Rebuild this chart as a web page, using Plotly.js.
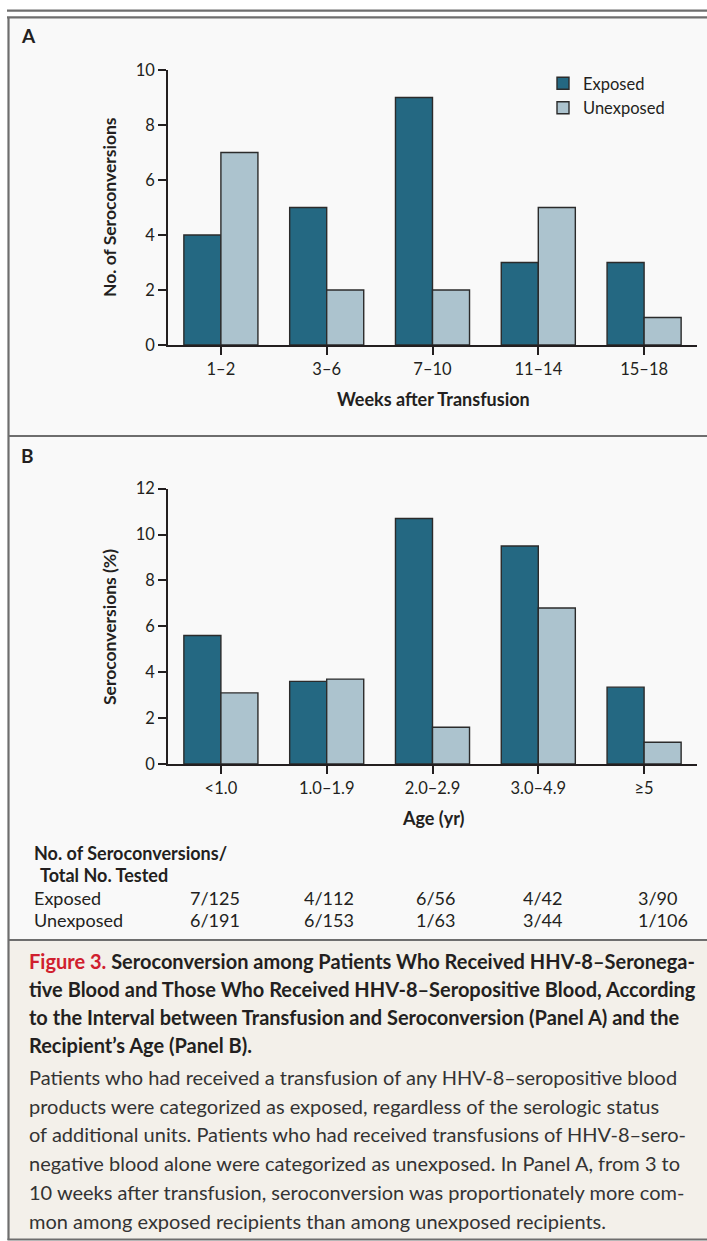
<!DOCTYPE html>
<html>
<head>
<meta charset="utf-8">
<script src="https://cdn.plot.ly/plotly-3.0.1.min.js"></script>
<style>
html,body{margin:0;padding:0;background:#fff;}
#chart{width:707px;height:1241px;}
</style>
</head>
<body>
<div id="chart"></div>
<script>
// ---------- DATA ----------
const weekCategories = ['1–2', '3–6', '7–10', '11–14', '15–18'];
const exposedByWeek = [4, 5, 9, 3, 3];
const unexposedByWeek = [7, 2, 2, 5, 1];

const ageCategories = ['<1.0', '1.0–1.9', '2.0–2.9', '3.0–4.9', '≥5'];
const exposedByAge = [5.6, 3.6, 10.7, 9.5, 3.35];
const unexposedByAge = [3.1, 3.7, 1.6, 6.8, 0.95];

const tableExposed = ['7/125', '4/112', '6/56', '4/42', '3/90'];
const tableUnexposed = ['6/191', '6/153', '1/63', '3/44', '1/106'];

const seriesNames = ['Exposed', 'Unexposed'];

const captionTitle = [
  '<span style="color:#d0202e">Figure 3.</span> Seroconversion among Patients Who Received HHV-8–Seronega-',
  'tive Blood and Those Who Received HHV-8–Seropositive Blood, According',
  'to the Interval between Transfusion and Seroconversion (Panel A) and the',
  'Recipient’s Age (Panel B).'
];
const captionBody = [
  'Patients who had received a transfusion of any HHV-8–seropositive blood',
  'products were categorized as exposed, regardless of the serologic status',
  'of additional units. Patients who had received transfusions of HHV-8–sero-',
  'negative blood alone were categorized as unexposed. In Panel A, from 3 to',
  '10 weeks after transfusion, seroconversion was proportionately more com-',
  'mon among exposed recipients than among unexposed recipients.'
];

// ---------- LAYOUT HELPERS ----------
const W = 707, H = 1241;
const px = x => x / W;
const py = y => 1 - y / H;
const FONT = 'Lato, "Liberation Sans", sans-serif';
const TXT = '#231f20';
const AX = '#231f20';
const COL_EXP = '#246882';
const COL_UNEXP = '#acc3ce';

const barLine = {color: '#2b2b2b', width: 1.4};

const traces = [
  {type: 'bar', name: seriesNames[0], x: weekCategories, y: exposedByWeek, xaxis: 'x', yaxis: 'y',
   marker: {color: COL_EXP, line: barLine}, legendgroup: 'e', hoverinfo: 'x+y'},
  {type: 'bar', name: seriesNames[1], x: weekCategories, y: unexposedByWeek, xaxis: 'x', yaxis: 'y',
   marker: {color: COL_UNEXP, line: barLine}, legendgroup: 'u', hoverinfo: 'x+y'},
  {type: 'bar', name: seriesNames[0], x: ageCategories, y: exposedByAge, xaxis: 'x2', yaxis: 'y2',
   marker: {color: COL_EXP, line: barLine}, showlegend: false, legendgroup: 'e', hoverinfo: 'x+y'},
  {type: 'bar', name: seriesNames[1], x: ageCategories, y: unexposedByAge, xaxis: 'x2', yaxis: 'y2',
   marker: {color: COL_UNEXP, line: barLine}, showlegend: false, legendgroup: 'u', hoverinfo: 'x+y'}
];

const axisCommon = {
  showline: true, linecolor: AX, linewidth: 1.5,
  ticks: 'outside', tickcolor: AX, tickwidth: 1.5, ticklen: 8,
  showgrid: false, zeroline: false, fixedrange: true,
  tickfont: {family: FONT, size: 16.5, color: TXT}
};

const xA = Object.assign({}, axisCommon, {
  domain: [px(168), px(697)], anchor: 'y', type: 'category', range: [-0.5, 4.5]
});
const yA = Object.assign({}, axisCommon, {
  domain: [py(345), py(70)], anchor: 'x', range: [0, 10], dtick: 2, tick0: 0
});
const xB = Object.assign({}, axisCommon, {
  domain: [px(168), px(697)], anchor: 'y2', type: 'category', range: [-0.5, 4.5]
});
const yB = Object.assign({}, axisCommon, {
  domain: [py(764), py(488.7)], anchor: 'x2', range: [0, 12], dtick: 2, tick0: 0
});

const ann = [];
function addText(text, x, y, opts) {
  ann.push(Object.assign({
    text: text, x: px(x), y: py(y), xref: 'paper', yref: 'paper',
    xanchor: 'left', yanchor: 'middle', showarrow: false,
    font: {family: FONT, size: 18, color: TXT}
  }, opts || {}));
}

// panel letters
addText('<b>A</b>', 19, 35.5, {font: {family: FONT, size: 19, color: TXT}});
addText('<b>B</b>', 19, 455, {font: {family: FONT, size: 19, color: TXT}});

// axis titles
addText('<b>No. of Seroconversions</b>', 109, 207, {xanchor: 'center', textangle: -90, font: {family: FONT, size: 17.5, color: TXT}});
addText('<b>Weeks after Transfusion</b>', 433, 399, {xanchor: 'center', font: {family: FONT, size: 18, color: TXT}});
addText('<b>Seroconversions (%)</b>', 109, 627, {xanchor: 'center', textangle: -90, font: {family: FONT, size: 17.5, color: TXT}});
addText('<b>Age (yr)</b>', 433, 818, {xanchor: 'center', font: {family: FONT, size: 18, color: TXT}});

// table
addText('<b>No. of Seroconversions/</b>', 32, 853);
addText('<b>Total No. Tested</b>', 38, 875);
addText(seriesNames[0], 32, 898);
addText(seriesNames[1], 32, 920);
const colX = [188, 302, 414, 521, 636];
tableExposed.forEach((t, i) => addText(t, colX[i], 898));
tableUnexposed.forEach((t, i) => addText(t, colX[i], 920));

// caption
captionTitle.forEach((t, i) => addText('<b>' + t + '</b>', 27, 961 + i * 28, {font: {family: FONT, size: 20, color: '#231f20'}}));
captionBody.forEach((t, i) => addText(t, 27, 1077 + i * 28.7, {font: {family: FONT, size: 20, color: '#333'}}));

const GRAY = '#6e6e6e';
const shapes = [
  // panel background
  {type: 'rect', xref: 'paper', yref: 'paper', x0: px(9), x1: 1.01, y0: py(940), y1: py(17), fillcolor: '#f9f9f9', line: {width: 0}, layer: 'below'},
  // caption background
  {type: 'rect', xref: 'paper', yref: 'paper', x0: px(9), x1: 1.01, y0: py(1239), y1: py(940), fillcolor: '#f3f0ea', line: {width: 0}, layer: 'below'},
  // top rule
  {type: 'line', xref: 'paper', yref: 'paper', x0: px(7), x1: 1.01, y0: py(10.7), y1: py(10.7), line: {color: GRAY, width: 2.2}},
  // box top
  {type: 'line', xref: 'paper', yref: 'paper', x0: px(7), x1: 1.01, y0: py(17.3), y1: py(17.3), line: {color: GRAY, width: 2.2}},
  // left border
  {type: 'line', xref: 'paper', yref: 'paper', x0: px(8.5), x1: px(8.5), y0: py(17), y1: py(1240), line: {color: GRAY, width: 2.2}},
  // dividers
  {type: 'line', xref: 'paper', yref: 'paper', x0: px(8), x1: 1.01, y0: py(436), y1: py(436), line: {color: GRAY, width: 2.2}},
  {type: 'line', xref: 'paper', yref: 'paper', x0: px(8), x1: 1.01, y0: py(940), y1: py(940), line: {color: GRAY, width: 2.2}},
  {type: 'line', xref: 'paper', yref: 'paper', x0: px(7.5), x1: 1.01, y0: py(1239.5), y1: py(1239.5), line: {color: GRAY, width: 2.2}}
];

const layout = {
  width: W, height: H,
  margin: {l: 0, r: 0, t: 0, b: 0},
  paper_bgcolor: '#ffffff',
  plot_bgcolor: 'rgba(0,0,0,0)',
  barmode: 'group', bargap: 0.3, bargroupgap: 0,
  xaxis: xA, yaxis: yA, xaxis2: xB, yaxis2: yB,
  showlegend: true,
  legend: {
    x: px(543), y: py(66), xanchor: 'left', yanchor: 'top',
    bgcolor: 'rgba(0,0,0,0)', borderwidth: 0,
    font: {family: FONT, size: 16.5, color: TXT},
    tracegroupgap: 0, itemwidth: 30
  },
  annotations: ann,
  shapes: shapes
};

Plotly.newPlot('chart', traces, layout, {displayModeBar: false, staticPlot: false});
</script>
</body>
</html>
